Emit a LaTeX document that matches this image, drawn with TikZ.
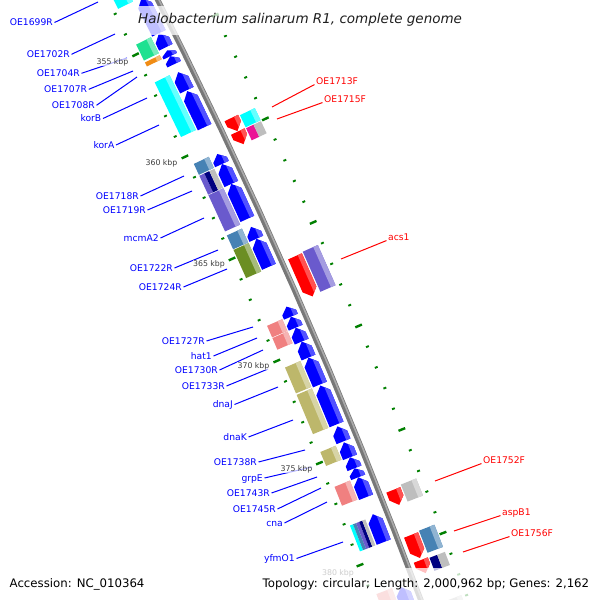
\documentclass[tikz,border=0pt]{standalone}
\usepackage{fontspec}
\newfontfamily\dv{DejaVu Sans}
\definecolor{cgblue}{RGB}{0,0,255}
\definecolor{cgred}{RGB}{255,0,0}
\definecolor{ccyan}{RGB}{0,255,255}
\definecolor{cmint}{RGB}{30,225,145}
\definecolor{corange}{RGB}{240,140,20}
\definecolor{csteel}{RGB}{70,130,180}
\definecolor{cpurple}{RGB}{106,90,205}
\definecolor{colive}{RGB}{107,142,35}
\definecolor{ccoral}{RGB}{240,128,128}
\definecolor{ckhaki}{RGB}{189,183,107}
\definecolor{cnavy}{RGB}{0,0,128}
\definecolor{cgray}{RGB}{190,190,190}
\definecolor{cmag}{RGB}{235,20,150}
\definecolor{ctick}{RGB}{0,128,0}
\definecolor{bbdark}{RGB}{120,120,120}
\definecolor{bblight}{RGB}{170,170,170}
\definecolor{labblue}{RGB}{0,0,255}
\definecolor{labred}{RGB}{255,0,0}
\definecolor{kbpgray}{RGB}{60,60,60}
\definecolor{ttlgray}{RGB}{30,30,30}

\makeatletter
\pgfkeys{/gcs/.cd, s/.store in=\gcsS, d/.store in=\gcsD}
\def\gcsS{0}\def\gcsD{0}
\tikzdeclarecoordinatesystem{g}{%
  \pgfkeys{/gcs/.cd,#1}%
  \pgfmathsetmacro\gcs@sn{(2773.2-(\gcsS))/6170}%
  \pgfmathsetmacro\gcs@cs{sqrt(1-\gcs@sn*\gcs@sn)}%
  \pgfmathsetmacro\gcs@r{6170+(\gcsD)}%
  \pgfmathsetmacro\gcs@x{-5353.7+\gcs@r*\gcs@cs}%
  \pgfmathsetmacro\gcs@y{-2773.2+\gcs@r*\gcs@sn}%
  \pgfpoint{\gcs@x pt}{\gcs@y pt}%
}
\makeatother

\def\Ri{-21.5}\def\Ro{-6.5}\def\Rm{-14}
\def\Fi{6.5}\def\Fo{21.5}\def\Fm{14}
\def\CRi{-39.5}\def\CRo{-23}
\def\CFi{23}\def\CFo{39.5}

% reverse strand arrow, head at s1
\newcommand\rA[2]{%
  \pgfmathsetmacro\fHh{min(7,0.6*((#2)-(#1)))}%
  \pgfmathsetmacro\fSh{(#1)+\fHh}%
  \pgfmathsetmacro\fSx{(#1)+0.4*\fHh}%
  \fill[cgblue] (g cs:s=#1,d=\Rm) -- (g cs:s=\fSh,d=\Ro) -- (g cs:s=#2,d=\Ro) -- (g cs:s=#2,d=\Ri) -- (g cs:s=\fSh,d=\Ri) -- cycle;
  \fill[cgblue!68!white] (g cs:s=\fSx,d=-11) -- (g cs:s=\fSh,d=\Ro) -- (g cs:s=#2,d=\Ro) -- (g cs:s=#2,d=-11) -- cycle;}
% forward strand arrow, head at s2
\newcommand\fA[2]{%
  \pgfmathsetmacro\fHh{min(7,0.6*((#2)-(#1)))}%
  \pgfmathsetmacro\fSh{(#2)-\fHh}%
  \pgfmathsetmacro\fSx{(#2)-0.4*\fHh}%
  \fill[cgred] (g cs:s=#1,d=\Fi) -- (g cs:s=#1,d=\Fo) -- (g cs:s=\fSh,d=\Fo) -- (g cs:s=#2,d=\Fm) -- (g cs:s=\fSh,d=\Fi) -- cycle;
  \fill[cgred!68!white] (g cs:s=#1,d=17) -- (g cs:s=#1,d=\Fo) -- (g cs:s=\fSh,d=\Fo) -- (g cs:s=\fSx,d=17) -- cycle;}
% COG boxes
\newcommand\cb[3]{%
  \fill[#3] (g cs:s=#1,d=\CRi) -- (g cs:s=#2,d=\CRi) -- (g cs:s=#2,d=\CRo) -- (g cs:s=#1,d=\CRo) -- cycle;
  \fill[#3!60!white] (g cs:s=#1,d=-28) -- (g cs:s=#2,d=-28) -- (g cs:s=#2,d=\CRo) -- (g cs:s=#1,d=\CRo) -- cycle;}
\newcommand\cf[3]{%
  \fill[#3] (g cs:s=#1,d=\CFi) -- (g cs:s=#2,d=\CFi) -- (g cs:s=#2,d=\CFo) -- (g cs:s=#1,d=\CFo) -- cycle;
  \fill[#3!60!white] (g cs:s=#1,d=34.5) -- (g cs:s=#2,d=34.5) -- (g cs:s=#2,d=\CFo) -- (g cs:s=#1,d=\CFo) -- cycle;}
% split box
\newcommand\sbx[5]{%
  \foreach \cc [count=\ii] in {#5}{\xdef\sbN{\ii}}%
  \foreach \cc [count=\ii] in {#5}{%
    \pgfmathsetmacro\sbA{(#3)+((#4)-(#3))*(\ii-1)/\sbN}%
    \pgfmathsetmacro\sbB{(#3)+((#4)-(#3))*\ii/\sbN}%
    \fill[\cc] (g cs:s=#1,d=\sbA) -- (g cs:s=#2,d=\sbA) -- (g cs:s=#2,d=\sbB) -- (g cs:s=#1,d=\sbB) -- cycle;}}

\tikzset{
  lb/.style={font=\dv\fontsize{9.2}{11}\selectfont, text=labblue, inner xsep=1.5pt, inner ysep=0pt, text height=6.7pt, text depth=0pt, anchor=east},
  lr/.style={font=\dv\fontsize{9.2}{11}\selectfont, text=labred, inner xsep=1.5pt, inner ysep=0pt, text height=6.7pt, text depth=0pt, anchor=west},
  lnb/.style={draw=labblue, line width=1pt},
  lnr/.style={draw=labred, line width=1pt},
  kbp/.style={font=\dv\fontsize{7.8}{9}\selectfont, text=kbpgray, fill=white, fill opacity=.7, text opacity=1, inner sep=.6pt},
  foot/.style={font=\dv\fontsize{11.75}{14}\selectfont, text=black, inner sep=0pt, anchor=base west},
}

\begin{document}
\begin{tikzpicture}[x=1pt,y=-1pt]
\useasboundingbox (0,0) rectangle (600,600);
\fill[white] (0,0) rectangle (600,600);

% ruler dots
\foreach \k in {-2,...,29}{%
  \pgfmathsetmacro\ss{35+20.56*\k}%
  \pgfmathtruncatemacro\mj{mod(\k+100,5)==0 ? 1 : 0}%
  \ifnum\mj=1 \def\tkH{3.6}\def\tkW{2.4pt}\else \def\tkH{1.5}\def\tkW{1.9pt}\fi
  \draw[ctick, line width=\tkW] (g cs:s=\ss,d=-44.5-\tkH) -- (g cs:s=\ss,d=-44.5+\tkH);
  \draw[ctick, line width=\tkW] (g cs:s=\ss,d=44.5-\tkH) -- (g cs:s=\ss,d=44.5+\tkH);
}

% backbone
\draw[bbdark, line width=5.5pt] (g cs:s=-30,d=0) \foreach \s in {50,130,...,690}{ -- (g cs:s=\s,d=0)};
\draw[bblight, line width=1.6pt] (g cs:s=-30,d=1.2) \foreach \s in {50,130,...,690}{ -- (g cs:s=\s,d=1.2)};

% reverse strand genes
\rA{-60}{-10}
\rA{-8}{27}
\rA{27}{41}
\rA{44}{50}
\rA{50}{58}
\rA{66}{84}
\rA{85}{121}
\rA{148}{158}
\rA{158}{178}
\rA{178}{213}
\rA{221}{233}
\rA{233}{261}
\rA{301}{311}
\rA{311}{322}
\rA{322}{336}
\rA{336}{352}
\rA{352}{379}
\rA{380}{419}
\rA{421}{436}
\rA{437}{452}
\rA{452}{463}
\rA{463}{472}
\rA{472}{492}
\rA{509}{537}
\rA{582}{640}

% reverse COG
\cb{-60}{-9}{ccyan}
\cb{27}{43}{cmint}
\cb{45}{49}{corange}
\cb{65}{120}{ccyan}
\cb{147}{158}{csteel}
\sbx{159}{178}{\CRi}{\CRo}{cpurple,cnavy,cgray}
\cb{178.6}{215}{cpurple}
\cb{219}{233}{csteel}
\cb{233.6}{262}{colive}
\cb{310}{321.7}{ccoral}
\cb{322.3}{334}{ccoral}
\cb{352}{378}{ckhaki}
\cb{379.5}{419}{ckhaki}
\cb{437}{451}{ckhaki}
\cb{472}{491}{ccoral}
\sbx{511}{537}{\CRi}{\CRo}{ccyan,csteel,cpurple,cnavy,cgray}
\cb{580}{640}{ccoral}

% forward strand genes
\fA{124}{137}
\fA{137.5}{150}
\fA{262}{302}
\fA{495}{510}
\fA{540}{563}
\fA{565}{578}

% forward COG
\cf{125}{137}{ccyan}
\sbx{138}{150}{\CFi}{\CFo}{cmag,cgray}
\cf{261}{301}{cpurple}
\cf{493}{510}{cgray}
\cf{539}{561}{csteel}
\sbx{566}{579}{\CFi}{\CFo}{cnavy,cgray}
\cf{609}{640}{cgray}

% left labels
\foreach \nm/\tx/\ty/\ex/\ey [count=\i] in {
  OE1699R/54.5/22.5/98/2,
  OE1702R/71.5/54.3/115/34,
  OE1704R/81.5/73.3/127/58,
  OE1707R/88.8/89.3/133/71,
  OE1708R/96.5/105.3/137/77,
  korB/103/118.5/147/98,
  korA/116/145/159/125,
  OE1718R/140.5/196/184/176,
  OE1719R/147.5/210/192/191,
  mcmA2/160.5/238/204/218,
  OE1722R/174.5/268/218/250,
  OE1724R/183.5/287/227/269,
  OE1727R/206.5/341/253/327,
  hat1/213.5/356/257/338,
  OE1730R/219.5/370/263/350,
  OE1733R/226.5/386/268/369,
  dnaJ/234.5/404.5/278/387,
  dnaK/248.5/437/293/420,
  OE1738R/258.5/462/305/450,
  grpE/264.5/478/312/467,
  OE1743R/271.5/493/317/477,
  OE1745R/277.5/509/321/488,
  cna/284.5/523/327/502,
  yfmO1/296.5/558.5/343/542}{
  \node[lb] (L\i) at (\tx,\ty) {\nm};
  \coordinate (E\i) at (\ex,\ey);
  \draw[lnb] (L\i.east) -- (E\i);
}

% right labels
\foreach \nm/\tx/\ty/\ex/\ey [count=\i] in {
  OE1713F/314.5/81/272/107,
  OE1715F/322.5/99/277/119,
  acs1/386.5/237/341/259,
  OE1752F/481.5/460/435/481,
  aspB1/500.5/512/454/531,
  OE1756F/509.5/533/463/552}{
  \node[lr] (R\i) at (\tx,\ty) {\nm};
  \coordinate (F\i) at (\ex,\ey);
  \draw[lnr] (R\i.south west) -- (F\i);
}

% kbp labels
\node[kbp] (k355) at (112.5,62) {355 kbp};
\node[kbp] (k360) at (161.5,163) {360 kbp};
\node[kbp] (k365) at (209,264) {365 kbp};
\node[kbp] (k370) at (253.5,366) {370 kbp};
\node[kbp] (k375) at (296.5,469) {375 kbp};
\node[kbp] (k380) at (338,573) {380 kbp};

% title and footer bands
\fill[white, fill opacity=.75] (136,6) rectangle (468,35);
\node[anchor=base west, inner sep=0pt, font=\dv\itshape\fontsize{13.5}{16}\selectfont, text=ttlgray] (title) at (138,23) {Halobacterium salinarum R1, complete genome};
\fill[white, fill opacity=.75] (0,568) rectangle (600,600);
\node[foot] (acc) at (9.5,587) {Accession: NC\_010364};
\node[foot] (topo) at (262.5,587) {Topology: circular; Length: 2,000,962 bp; Genes: 2,162};
\end{tikzpicture}
\end{document}
